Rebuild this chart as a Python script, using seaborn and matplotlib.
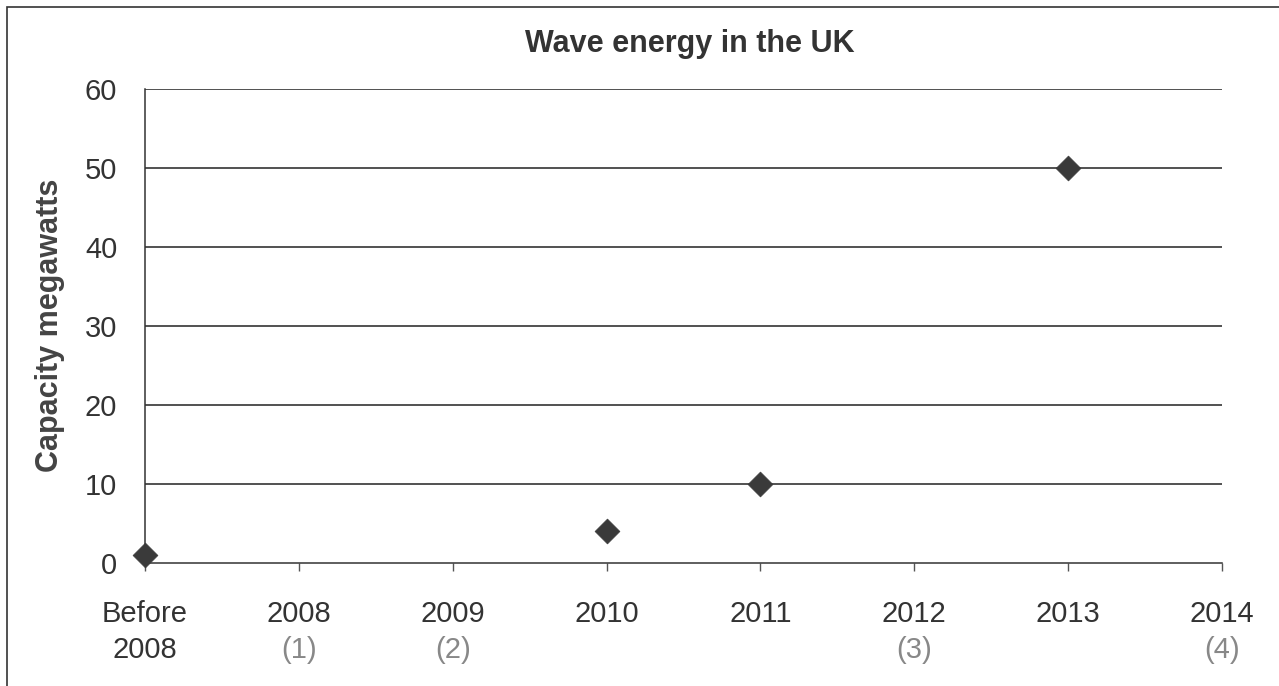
import matplotlib
matplotlib.use("Agg")
import matplotlib.pyplot as plt
import matplotlib.transforms as mtransforms
import numpy as np
import pandas as pd
import seaborn as sns

# Data
categories = ["Before", "2008", "2009", "2010", "2011", "2012", "2013", "2014"]
sublabels = ["2008", "(1)", "(2)", "", "", "(3)", "", "(4)"]
capacity_mw = [1, np.nan, np.nan, 4, 10, np.nan, 50, np.nan]

sns.set_theme(style="white")
plt.rcParams["font.family"] = ["Liberation Sans", "DejaVu Sans"]

df = pd.DataFrame({"pos": np.arange(len(categories)), "capacity": capacity_mw}).dropna()

fig = plt.figure(figsize=(12.79, 6.86), dpi=100)
ax = fig.add_axes([145 / 1279, 1 - 563 / 686, (1222 - 145) / 1279, (563 - 89) / 686])

sns.scatterplot(data=df, x="pos", y="capacity", ax=ax, marker="D", s=160,
                color="#3a3a3a", edgecolor="#3a3a3a", linewidth=0.5, zorder=5, clip_on=False)

ax.set_xlim(0, len(categories) - 1)
ax.set_ylim(0, 60)
ax.set_yticks(range(0, 61, 10))
ax.set_yticklabels([str(v) for v in range(0, 61, 10)], fontsize=21, color="#333333")
ax.set_xticks(range(len(categories)))
ax.set_xticklabels(categories, fontsize=21, color="#333333")
ax.tick_params(axis="x", direction="out", length=6, width=1, color="#555555", pad=21, bottom=True)
ax.tick_params(axis="y", length=0, pad=20)

for v in range(10, 61, 10):
    ax.axhline(v, color="#222222", linewidth=1.1, zorder=1)

for s in ["top", "right"]:
    ax.spines[s].set_visible(False)
ax.spines["left"].set_color("#333333")
ax.spines["bottom"].set_color("#333333")
ax.spines["left"].set_linewidth(1.1)
ax.spines["bottom"].set_linewidth(1.1)

trans = mtransforms.blended_transform_factory(ax.transData, ax.transAxes)
for i, lab in enumerate(sublabels):
    if lab:
        col = "#333333" if i == 0 else "#888888"
        ax.text(i, -0.183, lab, transform=trans, ha="center", va="center",
                fontsize=21, color=col)

ax.set_xlabel("")
ax.set_ylabel("")
fig.text(50 / 1279, 1 - 325 / 686, "Capacity megawatts", rotation=90, ha="center", va="center",
         fontsize=22, fontweight="bold", color="#444444")
fig.text(690 / 1279, 1 - 44 / 686, "Wave energy in the UK", ha="center", va="center",
         fontsize=22, fontweight="bold", color="#333333")

# outer chart border
fig.patches.append(plt.Rectangle((7 / 1279, -0.01), 1.02, 1 - 7 / 686 + 0.01,
                                 transform=fig.transFigure, fill=False,
                                 edgecolor="#333333", linewidth=1.2))

fig.savefig("out.png", dpi=100)
